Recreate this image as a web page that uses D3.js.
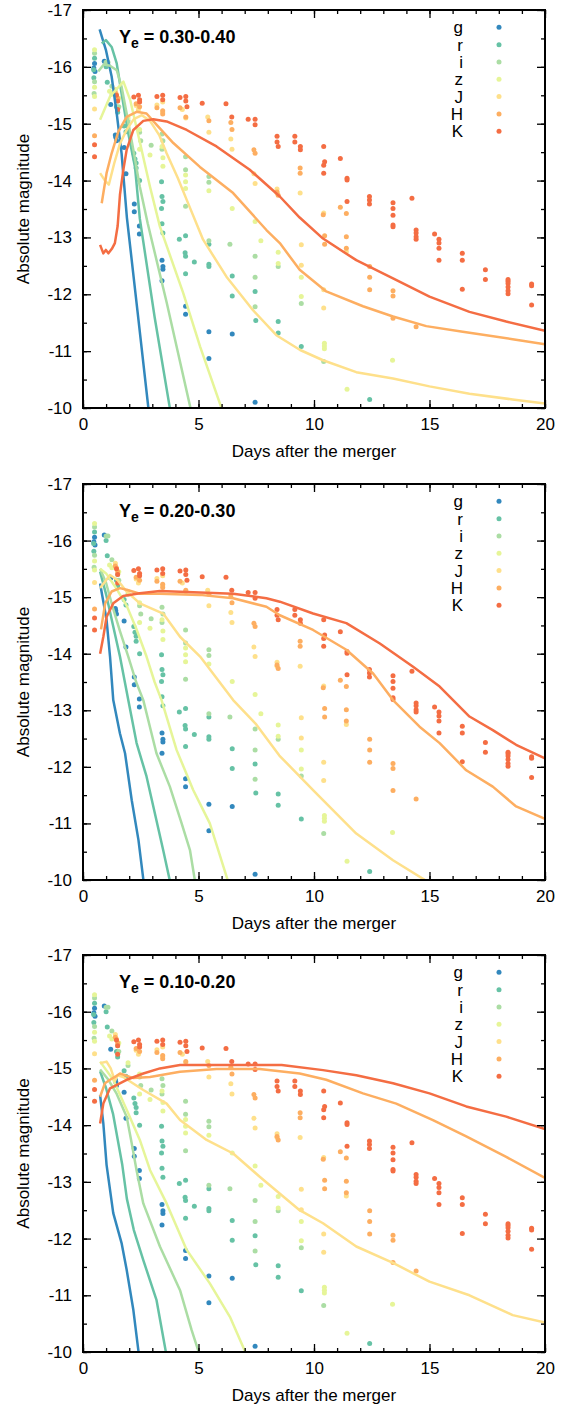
<!DOCTYPE html>
<html lang="en">
<head>
<meta charset="UTF-8">
<title>Kilonova light curves</title>
<script src="https://d3js.org/d3.v7.min.js"></script>
<style>
    body { margin: 0; background: #fff; }
    svg { display: block; font-family: "Liberation Sans", Arial, sans-serif; }
    .tick text { font-size: 17px; fill: #000; }
    .tick line { stroke: #000; stroke-width: 1.3; }
</style>
</head>
<body>
<div id="chart"></div>
<script>
// bands and panel labels
const bands = ["g", "r", "i", "z", "J", "H", "K"];
const panelLabels = ["0.30-0.40", "0.20-0.30", "0.10-0.20"];
const xTicks = [0, 5, 10, 15, 20];
const yTicks = [-17, -16, -15, -14, -13, -12, -11, -10];

// observed photometry [day, magnitude] (same in all panels)
const obsG = [[0.50,-16.06],[0.47,-15.98],[0.52,-15.92],[0.92,-16.10],[1.20,-15.34],[1.40,-14.80],[1.42,-14.76],[1.45,-14.70],
  [1.78,-14.58],[1.86,-14.12],[2.22,-13.59],[2.22,-13.45],[2.44,-13.20],[2.44,-13.06],[3.42,-12.60],[3.46,-12.49],
  [3.46,-12.44],[3.42,-12.24],[4.44,-11.79],[4.44,-11.65],[5.45,-11.34],[5.45,-10.87],[6.46,-11.30],[7.45,-10.10]];
const obsR = [[0.50,-16.15],[0.46,-15.95],[0.47,-15.81],[1.00,-16.00],[1.05,-15.73],[1.45,-15.30],[1.50,-15.20],[1.78,-14.96],
  [1.86,-14.86],[2.20,-14.48],[2.25,-14.38],[2.30,-14.31],[2.30,-14.22],[2.45,-14.00],[3.40,-13.98],[3.42,-13.72],
  [3.46,-13.63],[3.40,-13.51],[3.42,-13.24],[3.46,-13.08],[4.17,-12.97],[4.44,-13.03],[4.42,-12.73],[4.44,-12.67],
  [4.82,-12.57],[4.44,-12.36],[5.45,-12.88],[5.45,-12.53],[5.45,-12.49],[6.46,-12.32],[6.46,-11.97],[7.45,-12.05],
  [7.48,-11.54],[8.45,-11.52],[8.45,-11.32],[9.45,-11.08],[12.41,-10.15]];
const obsI = [[0.50,-16.24],[0.50,-15.74],[0.48,-15.53],[1.00,-16.08],[1.08,-16.08],[1.25,-15.66],[1.50,-15.40],[1.55,-15.30],
  [1.95,-15.05],[2.45,-14.85],[2.50,-14.70],[2.95,-14.62],[3.42,-14.82],[3.46,-14.70],[3.42,-14.55],[4.44,-14.42],
  [4.44,-14.19],[4.44,-13.55],[5.45,-14.07],[5.45,-13.97],[6.36,-12.88],[5.45,-12.94],[7.45,-12.67],[7.45,-12.30],
  [7.45,-11.78],[8.45,-12.49],[9.45,-11.84],[10.42,-10.82]];
const obsZ = [[0.50,-16.30],[0.50,-15.64],[0.50,-15.48],[1.15,-15.57],[1.25,-15.52],[1.55,-15.45],[1.95,-15.10],[2.45,-14.90],
  [2.45,-14.55],[2.90,-14.45],[3.42,-14.60],[3.46,-14.40],[3.46,-14.25],[4.44,-14.10],[4.44,-13.98],[4.44,-13.86],
  [5.45,-13.82],[6.46,-13.51],[7.45,-13.28],[7.70,-12.94],[8.45,-12.74],[8.45,-12.54],[9.45,-12.30],[9.45,-11.96],
  [10.45,-11.14],[10.45,-11.09],[10.45,-11.04],[11.43,-10.33],[13.40,-10.84]];
const obsJ = [[0.50,-15.26],[1.40,-15.60],[1.45,-15.52],[2.30,-15.32],[2.40,-15.25],[3.20,-15.33],[3.45,-15.38],[3.45,-15.20],
  [4.30,-15.25],[4.45,-15.10],[5.40,-15.12],[5.45,-14.85],[6.40,-14.73],[6.45,-14.55],[7.40,-14.12],[7.45,-13.95],
  [8.40,-13.85],[8.40,-13.78],[9.40,-13.78],[9.45,-12.87],[9.45,-12.51],[10.42,-13.43],[10.42,-12.08],[10.42,-11.76],
  [11.40,-12.75]];
const obsH = [[0.50,-14.79],[1.40,-15.55],[1.50,-15.45],[2.30,-15.35],[2.45,-15.30],[3.20,-15.28],[3.45,-15.23],[3.45,-15.17],
  [4.20,-15.28],[4.45,-15.12],[5.45,-15.05],[6.40,-15.02],[6.45,-14.90],[7.40,-14.54],[7.45,-14.48],[8.40,-13.80],
  [8.45,-13.74],[9.40,-14.22],[9.40,-14.13],[10.40,-13.40],[10.46,-13.03],[10.46,-12.88],[11.14,-13.53],[11.40,-13.42],
  [11.40,-13.01],[11.40,-12.81],[12.41,-12.49],[12.41,-12.30],[12.41,-12.08],[13.42,-12.06],[13.42,-11.97],
  [13.42,-11.58],[14.42,-11.43]];
const obsK = [[0.50,-14.63],[0.50,-14.42],[1.45,-15.50],[1.50,-15.40],[1.50,-15.25],[2.20,-15.47],[2.40,-15.50],[2.45,-15.42],
  [2.45,-15.38],[3.20,-15.48],[3.45,-15.50],[3.45,-15.42],[4.20,-15.46],[4.45,-15.48],[4.45,-15.40],[4.50,-15.30],
  [5.16,-15.36],[6.19,-15.35],[6.44,-15.12],[7.15,-15.08],[7.45,-15.08],[7.45,-14.98],[8.40,-14.78],[8.40,-14.68],
  [8.45,-14.60],[9.17,-14.78],[9.17,-14.68],[9.41,-14.60],[9.41,-14.54],[10.42,-14.60],[10.46,-14.33],[10.42,-14.27],
  [10.42,-14.13],[11.14,-14.39],[11.43,-14.04],[11.43,-14.01],[11.43,-13.63],[12.40,-13.72],[12.40,-13.66],
  [12.40,-13.59],[13.42,-13.61],[13.42,-13.51],[13.42,-13.39],[13.42,-13.22],[13.42,-13.19],[14.24,-13.69],
  [14.42,-13.13],[14.42,-13.08],[14.42,-13.01],[14.42,-12.97],[15.22,-13.06],[15.41,-12.97],[15.41,-12.90],
  [15.41,-12.81],[15.41,-12.60],[16.42,-12.72],[16.42,-12.60],[16.42,-12.09],[17.42,-12.43],[17.42,-12.26],
  [18.40,-12.26],[18.40,-12.23],[18.40,-12.19],[18.40,-12.13],[18.40,-12.06],[18.40,-12.01],[19.42,-12.18],
  [19.42,-12.15],[19.42,-11.81]];

// model light curves, Ye = 0.30-0.40
const ye30_g = [[0.72,-16.66],[0.99,-16.30],[1.24,-15.83],[1.46,-15.18],[1.67,-14.48],[1.90,-13.35],[2.36,-11.70],[2.85,-9.93]];
const ye30_r = [[0.81,-16.41],[0.99,-16.47],[1.24,-16.35],[1.46,-16.06],[1.67,-15.53],[1.96,-14.83],[2.25,-14.24],[2.46,-13.33],[3.10,-11.60],[3.78,-9.95]];
const ye30_i = [[0.66,-15.92],[0.90,-16.04],[1.17,-16.02],[1.46,-15.94],[1.67,-15.65],[1.89,-15.18],[2.18,-14.54],[2.46,-13.89],[2.80,-13.25],[3.62,-11.86],[4.68,-9.95]];
const ye30_z = [[0.74,-15.07],[1.17,-15.48],[1.75,-15.74],[2.04,-15.42],[2.47,-14.66],[2.90,-13.89],[3.33,-13.19],[4.34,-12.02],[5.07,-11.08],[6.02,-9.97]];
const ye30_J = [[0.74,-14.13],[0.95,-14.00],[1.12,-13.93],[1.35,-14.30],[1.60,-14.65],[1.90,-14.90],[2.20,-15.08],[2.55,-15.15],[2.90,-15.05],
  [3.30,-14.80],[3.62,-14.48],[4.10,-14.05],[4.49,-13.66],[5.20,-12.96],[6.21,-12.31],[7.36,-11.72],[8.37,-11.28],[9.40,-11.02],
  [10.39,-10.84],[11.83,-10.63],[13.42,-10.52],[15.00,-10.38],[16.73,-10.25],[18.60,-10.15],[20.00,-10.08]];
const ye30_H = [[0.81,-13.60],[1.02,-14.13],[1.24,-14.48],[1.53,-14.86],[1.89,-15.12],[2.32,-15.21],[2.75,-15.18],[3.19,-14.98],
  [3.91,-14.66],[5.06,-14.24],[6.50,-13.78],[7.94,-13.13],[8.52,-12.90],[9.38,-12.43],[10.53,-12.05],[12.12,-11.79],
  [13.42,-11.61],[14.86,-11.44],[16.44,-11.34],[18.60,-11.21],[20.00,-11.12]];
const ye30_K = [[0.74,-12.87],[0.88,-12.72],[0.99,-12.78],[1.10,-12.72],[1.25,-12.80],[1.38,-12.90],[1.50,-13.20],[1.60,-13.75],
  [1.75,-14.20],[1.89,-14.54],[2.18,-14.89],[2.61,-15.05],[3.04,-15.08],[3.62,-15.04],[4.49,-14.89],[5.78,-14.60],
  [7.22,-14.19],[8.52,-13.72],[9.38,-13.35],[10.39,-12.98],[11.83,-12.60],[13.42,-12.28],[15.00,-11.96],[16.73,-11.69],
  [18.32,-11.52],[20.00,-11.36]];

// model light curves, Ye = 0.20-0.30
const ye20_g = [[0.74,-15.24],[1.02,-14.60],[1.17,-13.95],[1.31,-13.18],[1.60,-12.59],[1.82,-12.24],[2.11,-11.41],[2.40,-10.71],[2.63,-9.95]];
const ye20_r = [[0.74,-15.45],[1.00,-15.05],[1.30,-14.50],[1.60,-13.95],[1.96,-13.18],[2.32,-12.42],[2.75,-11.83],[3.11,-11.18],[3.47,-10.53],[3.78,-9.95]];
const ye20_i = [[0.74,-15.50],[1.00,-15.25],[1.30,-14.80],[1.60,-14.40],[1.96,-13.95],[2.30,-13.50],[2.61,-13.18],[3.18,-12.24],
  [3.76,-11.65],[4.27,-11.00],[4.63,-10.53],[4.86,-9.95]];
const ye20_z = [[0.74,-15.50],[1.00,-15.42],[1.40,-15.18],[1.89,-14.85],[2.30,-14.45],[2.75,-13.95],[3.10,-13.50],[3.40,-13.18],
  [4.05,-12.30],[4.77,-11.59],[5.49,-11.00],[6.30,-9.95]];
const ye20_J = [[0.74,-15.16],[1.17,-15.39],[1.50,-15.30],[1.89,-15.10],[2.46,-14.89],[3.47,-14.71],[4.20,-14.30],[5.07,-13.95],
  [6.50,-13.18],[7.50,-12.75],[8.50,-12.20],[9.96,-11.59],[11.83,-10.82],[13.42,-10.35],[15.00,-9.95]];
const ye20_H = [[0.78,-14.43],[0.96,-14.89],[1.24,-15.10],[1.60,-15.16],[1.89,-15.13],[2.46,-15.06],[3.33,-15.06],[5.06,-15.04],
  [6.50,-14.98],[7.94,-14.83],[8.52,-14.68],[9.96,-14.42],[11.40,-14.07],[12.56,-13.65],[13.42,-13.18],[14.57,-12.71],
  [15.44,-12.42],[16.59,-11.94],[17.74,-11.65],[18.75,-11.30],[20.00,-11.08]];
const ye20_K = [[0.74,-14.00],[0.88,-14.30],[1.02,-14.65],[1.31,-14.89],[1.74,-15.02],[2.46,-15.07],[3.33,-15.11],[5.06,-15.08],
  [6.50,-15.06],[7.94,-14.98],[8.52,-14.92],[9.96,-14.71],[11.40,-14.54],[12.85,-14.18],[14.29,-13.77],[15.44,-13.42],
  [16.73,-12.89],[17.74,-12.65],[18.75,-12.39],[20.00,-12.15]];

// model light curves, Ye = 0.10-0.20
const ye10_g = [[0.74,-14.53],[0.88,-14.03],[1.02,-13.30],[1.31,-12.45],[1.67,-11.92],[1.89,-11.45],[2.18,-10.74],[2.42,-9.95]];
const ye10_r = [[0.74,-14.95],[1.00,-14.65],[1.30,-14.20],[1.50,-13.75],[1.70,-13.30],[1.90,-12.70],[2.20,-12.15],[2.61,-11.62],[3.18,-10.92],[3.61,-9.95]];
const ye10_i = [[0.74,-14.98],[1.10,-14.80],[1.46,-14.55],[1.89,-14.15],[2.10,-13.70],[2.32,-13.20],[2.61,-12.62],[3.33,-11.86],
  [4.20,-11.09],[4.70,-10.39],[5.05,-9.95]];
const ye10_z = [[0.74,-15.12],[1.31,-14.80],[1.89,-14.27],[2.46,-13.74],[2.90,-13.21],[3.62,-12.62],[4.49,-11.80],[5.49,-11.21],
  [6.36,-10.62],[7.08,-9.95]];
const ye10_J = [[0.74,-15.09],[1.02,-15.12],[1.20,-15.00],[1.38,-14.78],[1.50,-14.88],[1.74,-14.85],[2.61,-14.62],[3.62,-14.38],
  [4.20,-14.09],[5.35,-13.74],[6.50,-13.50],[7.65,-13.09],[8.50,-12.80],[9.38,-12.50],[10.39,-12.27],[11.83,-11.86],
  [13.42,-11.57],[15.00,-11.24],[16.73,-11.00],[18.60,-10.65],[20.00,-10.52]];
const ye10_H = [[0.74,-14.50],[0.95,-14.74],[1.17,-14.80],[1.38,-14.85],[1.60,-14.91],[2.18,-14.83],[2.90,-14.85],[4.20,-14.94],
  [5.78,-14.99],[7.65,-14.99],[9.38,-14.91],[10.53,-14.80],[12.12,-14.56],[13.56,-14.38],[15.15,-14.09],[16.59,-13.80],
  [18.32,-13.44],[20.00,-13.07]];
const ye10_K = [[0.74,-14.03],[0.88,-14.38],[1.17,-14.65],[1.89,-14.80],[2.61,-14.91],[3.33,-15.00],[4.20,-15.06],[6.50,-15.06],
  [8.60,-15.06],[10.39,-14.97],[11.83,-14.88],[13.42,-14.74],[15.00,-14.56],[16.59,-14.33],[18.32,-14.15],[20.00,-13.93]];

const obsAll = [obsG, obsR, obsI, obsZ, obsJ, obsH, obsK];
const models = [
    [ye30_g, ye30_r, ye30_i, ye30_z, ye30_J, ye30_H, ye30_K],
    [ye20_g, ye20_r, ye20_i, ye20_z, ye20_J, ye20_H, ye20_K],
    [ye10_g, ye10_r, ye10_i, ye10_z, ye10_J, ye10_H, ye10_K]
];

// colours per band
const colors = ["#3288bd", "#66c2a5", "#abdda4", "#e6f598", "#fee08b", "#fdae61", "#f46d43"];

const W = 569, H = 1410;
const left = 83, right = 545;
const panels = [{top: 10, bottom: 408}, {top: 484, bottom: 880}, {top: 955, bottom: 1352}];

const svg = d3.select("#chart").append("svg")
    .attr("width", W).attr("height", H);

const x = d3.scaleLinear().domain([0, 20]).range([left, right]);

// plain hyphen for negative numbers, like the original
const plain = d => String(d);

panels.forEach((p, pi) => {
    const y = d3.scaleLinear().domain([-17, -10]).range([p.top, p.bottom]);
    const g = svg.append("g");

    const clipId = "clip" + pi;
    svg.append("clipPath").attr("id", clipId)
        .append("rect")
        .attr("x", left).attr("y", p.top)
        .attr("width", right - left).attr("height", p.bottom - p.top);

    // observed points
    const dots = g.append("g").attr("clip-path", `url(#${clipId})`);
    obsAll.forEach((pts, bi) => {
        dots.selectAll(null)
            .data(pts)
            .enter()
            .append("circle")
            .attr("cx", d => x(d[0]))
            .attr("cy", d => y(d[1]))
            .attr("r", 2.5)
            .attr("fill", colors[bi]);
    });

    // model lines
    const line = d3.line().x(d => x(d[0])).y(d => y(d[1]));
    const lines = g.append("g").attr("clip-path", `url(#${clipId})`);
    models[pi].forEach((pts, bi) => {
        lines.append("path")
            .datum(pts)
            .attr("d", line)
            .attr("fill", "none")
            .attr("stroke", colors[bi])
            .attr("stroke-width", 2.5)
            .attr("stroke-linejoin", "round");
    });

    // axes: major + minor ticks on all sides, inward
    const minorX = d3.range(0, 21, 1);
    const minorY = d3.range(-17, -9.9, 0.5);

    g.append("g").attr("transform", `translate(0,${p.bottom})`)
        .call(d3.axisBottom(x).tickValues(xTicks).tickSize(-8).tickPadding(10).tickFormat(plain));
    g.append("g").attr("transform", `translate(0,${p.bottom})`)
        .call(d3.axisBottom(x).tickValues(minorX).tickSize(-4).tickFormat(""));
    g.append("g").attr("transform", `translate(0,${p.top})`)
        .call(d3.axisTop(x).tickValues(xTicks).tickSize(-8).tickFormat(""));
    g.append("g").attr("transform", `translate(0,${p.top})`)
        .call(d3.axisTop(x).tickValues(minorX).tickSize(-4).tickFormat(""));

    g.append("g").attr("transform", `translate(${left},0)`)
        .call(d3.axisLeft(y).tickValues(yTicks).tickSize(-8).tickPadding(11).tickFormat(plain));
    g.append("g").attr("transform", `translate(${left},0)`)
        .call(d3.axisLeft(y).tickValues(minorY).tickSize(-4).tickFormat(""));
    g.append("g").attr("transform", `translate(${right},0)`)
        .call(d3.axisRight(y).tickValues(yTicks).tickSize(-8).tickFormat(""));
    g.append("g").attr("transform", `translate(${right},0)`)
        .call(d3.axisRight(y).tickValues(minorY).tickSize(-4).tickFormat(""));

    g.selectAll(".domain").remove();
    g.selectAll(".tick text").attr("font-family", null);

    // frame
    g.append("rect")
        .attr("x", left).attr("y", p.top)
        .attr("width", right - left).attr("height", p.bottom - p.top)
        .attr("fill", "none").attr("stroke", "#000").attr("stroke-width", 2);

    // axis titles
    g.append("text")
        .attr("x", (left + right) / 2).attr("y", p.bottom + 49)
        .attr("text-anchor", "middle").attr("font-size", 17)
        .text("Days after the merger");
    g.append("text")
        .attr("transform", `translate(29,${(p.top + p.bottom) / 2}) rotate(-90)`)
        .attr("text-anchor", "middle").attr("font-size", 17)
        .text("Absolute magnitude");

    // panel label
    const t = g.append("text")
        .attr("x", 119).attr("y", p.top + 33)
        .attr("font-size", 18).attr("font-weight", "bold");
    t.append("tspan").text("Y");
    t.append("tspan").attr("font-size", 14).attr("dy", 5).text("e");
    t.append("tspan").attr("dy", -5).text(" = " + panelLabels[pi]);

    // legend
    bands.forEach((b, bi) => {
        const ly = p.top + 17.3 + bi * 17.33;
        g.append("text")
            .attr("x", 463).attr("y", ly).attr("dy", "0.36em")
            .attr("text-anchor", "end").attr("font-size", 17)
            .text(b);
        g.append("circle")
            .attr("cx", 499).attr("cy", ly).attr("r", 2.5)
            .attr("fill", colors[bi]);
    });
});
</script>
</body>
</html>
